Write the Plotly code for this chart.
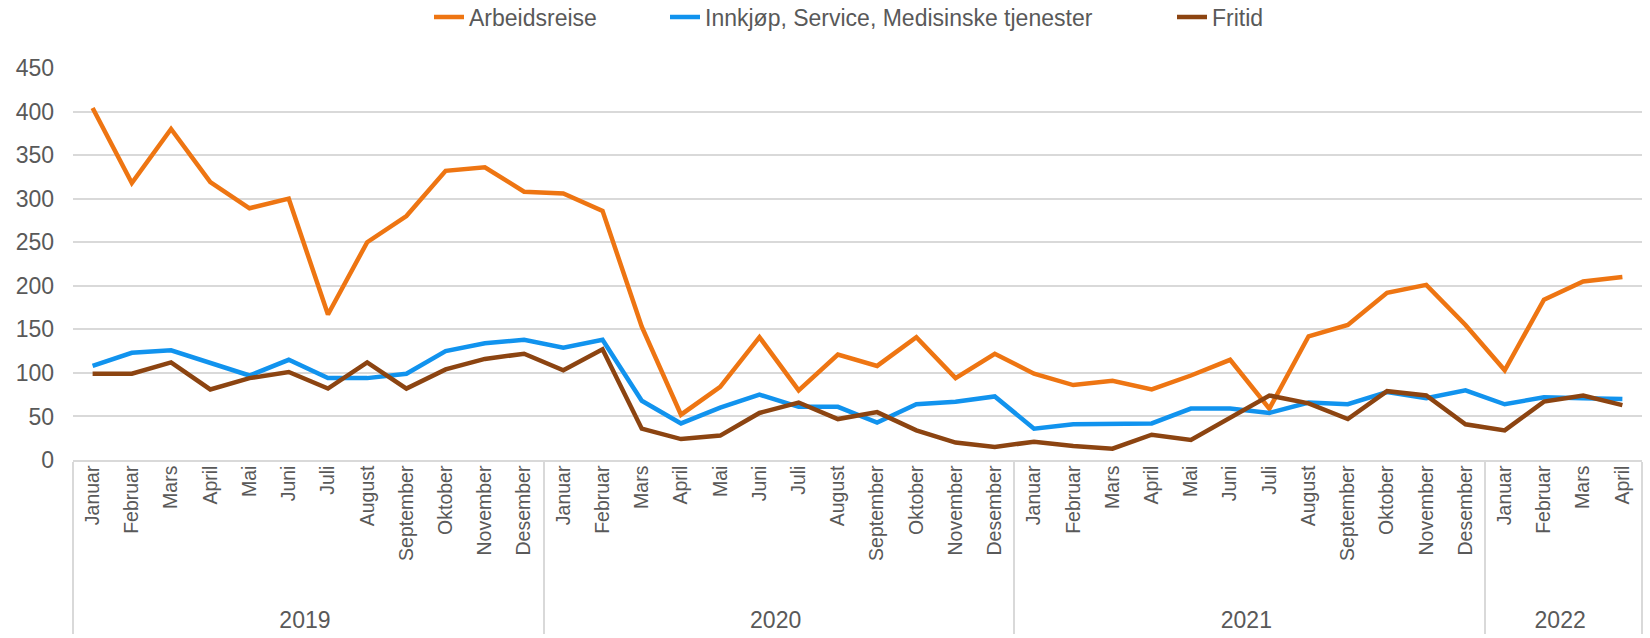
import plotly.graph_objects as go

years = ["2019"] * 12 + ["2020"] * 12 + ["2021"] * 12 + ["2022"] * 4
month_names = ["Januar", "Februar", "Mars", "April", "Mai", "Juni", "Juli",
               "August", "September", "Oktober", "November", "Desember"]
months = month_names * 3 + month_names[:4]

arbeidsreise = [404, 318, 380, 319, 289, 300, 167, 250, 280, 332, 336, 308,
                306, 286, 153, 52, 84, 141, 80, 121, 108, 141, 94, 122,
                99, 86, 91, 81, 97, 115, 59, 142, 155, 192, 201, 155,
                103, 184, 205, 210]
innkjop = [108, 123, 126, 111, 97, 115, 94, 94, 99, 125, 134, 138,
           129, 138, 68, 42, 60, 75, 61, 61, 43, 64, 67, 73,
           36, 41, 41, 42, 59, 59, 54, 66, 64, 78, 71, 80,
           64, 72, 71, 70]
fritid = [99, 99, 112, 81, 94, 101, 82, 112, 82, 104, 116, 122,
          103, 127, 36, 24, 28, 54, 66, 47, 55, 34, 20, 15,
          21, 16, 13, 29, 23, 49, 74, 65, 47, 79, 74, 41,
          34, 67, 74, 63]

series = [
    ("Arbeidsreise", arbeidsreise, "#EE7512", "legend", 429),
    ("Innkjøp, Service, Medisinske tjenester", innkjop, "#1193EE", "legend2", 665),
    ("Fritid", fritid, "#8C4411", "legend3", 1172),
]

year_labels = [f"<br><span style='font-size:23px'>{y}</span>" for y in years]
x = [year_labels, months]

W, H = 1650, 638
txt = "#595959"

fig = go.Figure()
legends = {}
for name, vals, col, leg, lx in series:
    fig.add_trace(go.Scatter(
        x=x, y=vals, name=name, mode="lines", legend=leg,
        line=dict(color=col, width=4.5),
    ))
    legends[leg] = dict(
        orientation="h", x=lx / W, xref="container", xanchor="left",
        y=1 - 17 / H, yref="container", yanchor="middle",
        font=dict(size=23, color=txt), bgcolor="rgba(0,0,0,0)",
    )

fig.update_layout(
    width=W, height=H,
    margin=dict(l=73, r=W - 1642, t=67.5, b=H - 460, autoexpand=False),
    paper_bgcolor="white", plot_bgcolor="white",
    font=dict(family="Liberation Sans, Arial, sans-serif", color=txt, size=19),
    showlegend=True,
    **legends,
)
fig.update_yaxes(
    range=[0, 450], tickvals=[0, 50, 100, 150, 200, 250, 300, 350, 400, 450],
    showgrid=True, gridcolor="#D9D9D9", gridwidth=1.5,
    zeroline=False, showline=False, ticks="",
    tickfont=dict(size=23, color=txt), ticklabelstandoff=18,
)
fig.update_xaxes(
    type="multicategory", range=[-0.5, 39.5], showgrid=False, tickangle=-90,
    showline=True, linecolor="#D9D9D9", linewidth=1.5, mirror=False,
    showdividers=True, dividercolor="#D9D9D9", dividerwidth=1.5,
    ticks="", tickfont=dict(size=19.5, color=txt), ticklabelstandoff=-4,
)
fig.write_html("out.html", config={"displayModeBar": False},
               post_script="document.body.style.margin='0px';")
